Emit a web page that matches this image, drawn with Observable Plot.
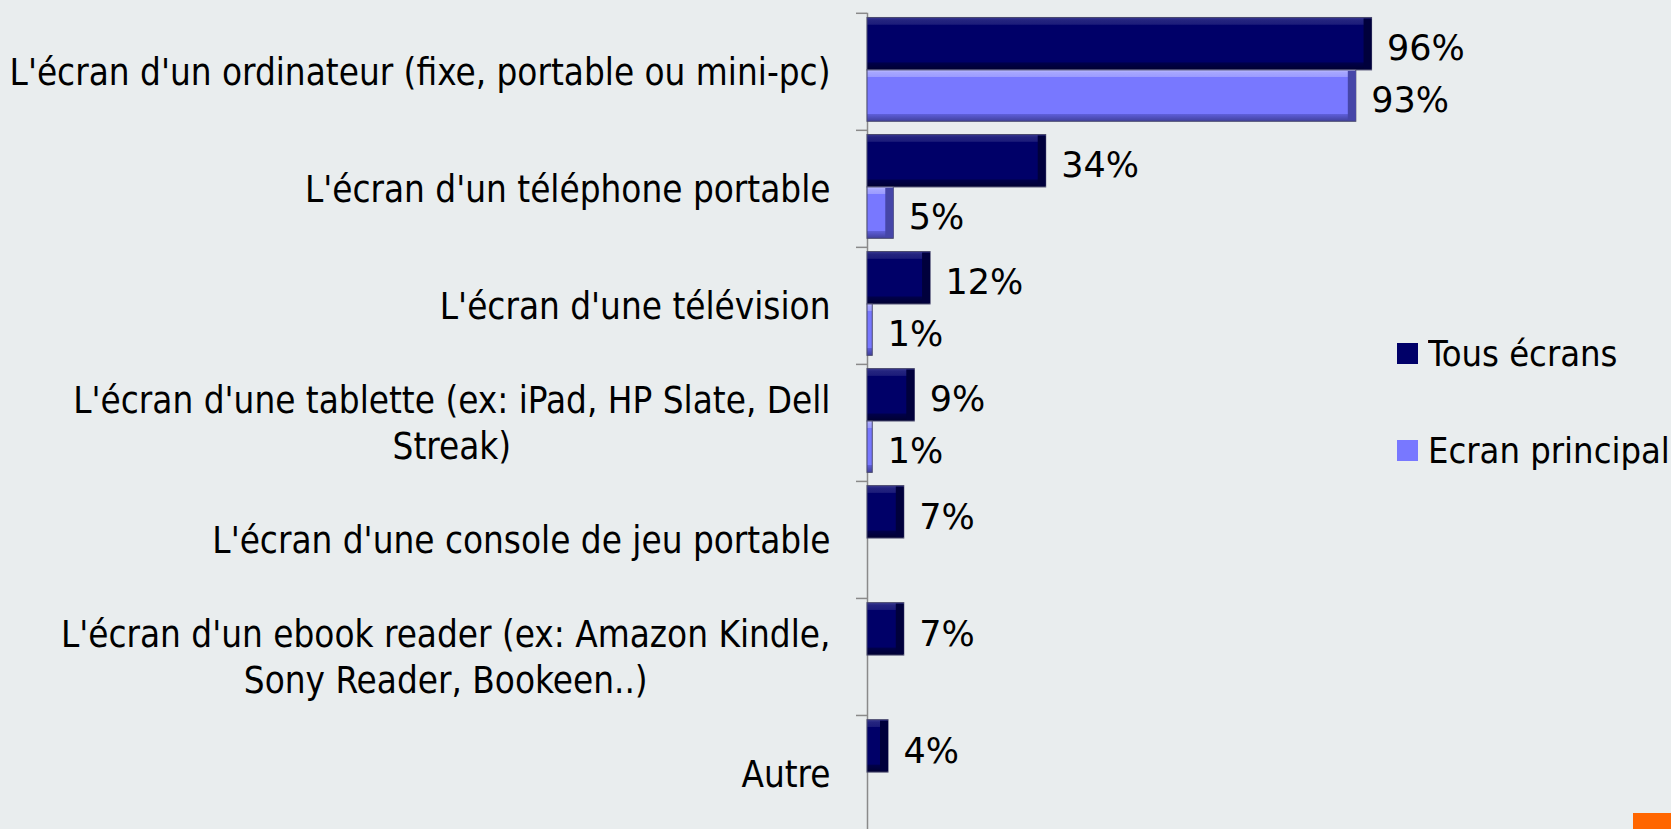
<!DOCTYPE html>
<html>
<head>
<meta charset="utf-8">
<script src="https://cdn.jsdelivr.net/npm/d3@7"></script>
<script src="https://cdn.jsdelivr.net/npm/@observablehq/plot@0.6"></script>
<style>
  html, body { margin: 0; padding: 0; background: #e9edee; }
  #wrap { position: relative; width: 1671px; height: 829px; overflow: hidden; background: #e9edee; }
  #chart svg { display: block; }
  #legend { position: absolute; left: 1397px; top: 343px; }
  #legend .lg-swatch, #legend > div > div { display: flex !important; align-items: center !important; height: 21px !important; margin: 0 0 76px 0 !important; padding: 0 !important; }
  #legend svg { margin-right: 10px !important; }
  #legend, #legend * { font-family: 'DejaVu Sans Condensed', 'DejaVu Sans', sans-serif !important; font-size: 36px !important; color: #000 !important; }
  #corner { position: absolute; left: 1633px; top: 813px; width: 38px; height: 16px; background: #ff6600; }
</style>
</head>
<body>
<div id="wrap">
  <div id="chart"></div>
  <div id="legend"></div>
  <div id="corner"></div>
</div>
<script>
// ---- data ----
const categories = [
  "L'écran d'un ordinateur (fixe, portable ou mini-pc)",
  "L'écran d'un téléphone portable",
  "L'écran d'une télévision",
  "L'écran d'une tablette (ex: iPad, HP Slate, Dell\nStreak)",
  "L'écran d'une console de jeu portable",
  "L'écran d'un ebook reader (ex: Amazon Kindle,\nSony Reader, Bookeen..)",
  "Autre"
];
const series = ["Tous écrans", "Ecran principal"];
const tousEcrans = [96, 34, 12, 9, 7, 7, 4];
const ecranPrincipal = [93, 5, 1, 1, null, null, null];

// ---- styling ----
const FONT = "'DejaVu Sans Condensed', 'DejaVu Sans', sans-serif";
const FONT_VAL = "'DejaVu Sans', sans-serif";
const colors = ["#000068", "#7878ff"];
const slot = { "Tous écrans": [0.04, 0.488], "Ecran principal": [0.488, 0.927] };
const gradId = { "Tous écrans": "gTous", "Ecran principal": "gPrin" };
const edgeColor = { "Tous écrans": "#00003c", "Ecran principal": "#4646a8" };

const rows = [];
categories.forEach((c, i) => {
  if (tousEcrans[i] != null) rows.push({ i, cat: c, series: series[0], value: tousEcrans[i] });
  if (ecranPrincipal[i] != null) rows.push({ i, cat: c, series: series[1], value: ecranPrincipal[i] });
});

const chart = Plot.plot({
  width: 1671,
  height: 832,
  marginLeft: 867,
  marginRight: 278.4,
  marginTop: 12.8,
  marginBottom: 0,
  style: { background: "transparent", fontFamily: FONT, color: "#000", overflow: "visible" },
  x: { domain: [0, 100], axis: null },
  y: { domain: [0, categories.length], reverse: true, axis: null },
  marks: [
    Plot.axisY({ ticks: d3.range(categories.length + 1), tickSize: 11, tickFormat: () => "", stroke: "#8a8a8a", strokeWidth: 1.5 }),
    Plot.ruleX([0], { y1: 0, y2: categories.length, stroke: "#8a8a8a", strokeWidth: 1.5 }),
    Plot.rect(rows, {
      x1: 0, x2: "value",
      y1: d => d.i + slot[d.series][0],
      y2: d => d.i + slot[d.series][1],
      fill: d => `url(#${gradId[d.series]})`,
      stroke: "#4a4a6e", strokeWidth: 1
    }),
    Plot.rect(rows.filter(d => d.value >= 3), {
      x1: "value", x2: "value",
      y1: d => d.i + slot[d.series][0],
      y2: d => d.i + slot[d.series][1],
      insetLeft: -8, insetTop: 1, insetBottom: 1,
      fill: d => edgeColor[d.series]
    }),
    Plot.text(rows, {
      x: "value",
      y: d => d.i + (slot[d.series][0] + slot[d.series][1]) / 2,
      text: d => d.value + "%",
      textAnchor: "start", dx: 15, dy: 5,
      fontSize: 35, fontFamily: FONT_VAL, fill: "#000"
    }),
    Plot.text(categories, {
      x: 0, y: (d, i) => i + 0.5,
      text: d => d,
      textAnchor: "end", dx: -37, dy: -2,
      lineHeight: 1.27,
      fontSize: 36.5, fontFamily: FONT, fill: "#000"
    })
  ]
});

document.getElementById("chart").appendChild(chart);

// gradients for bevel look
const defs = d3.select(chart).insert("defs", ":first-child");
function grad(id, stops) {
  const g = defs.append("linearGradient").attr("id", id).attr("x1", 0).attr("y1", 0).attr("x2", 0).attr("y2", 1);
  stops.forEach(([o, c]) => g.append("stop").attr("offset", o).attr("stop-color", c));
}
grad("gTous", [[0, "#3a3a92"], [0.05, "#24247f"], [0.13, "#1c1c7a"], [0.145, "#000068"], [0.85, "#000068"], [0.865, "#00004a"], [1, "#000030"]]);
grad("gPrin", [[0, "#c0c0ff"], [0.05, "#a6a6ff"], [0.13, "#9c9cff"], [0.145, "#7878ff"], [0.85, "#7878ff"], [0.865, "#5e5ed8"], [1, "#40409c"]]);

// center multi-line category labels as a block
chart.querySelectorAll("text").forEach(function (el) {
  const tspans = el.querySelectorAll("tspan");
  if (tspans.length > 1) {
    let w = 0;
    tspans.forEach(t => { w = Math.max(w, t.getComputedTextLength()); });
    el.setAttribute("text-anchor", "middle");
    el.style.textAnchor = "middle";
    tspans.forEach(t => t.setAttribute("x", -w / 2));
  }
});

// legend
const legend = Plot.legend({
  color: { domain: series, range: colors },
  legend: "swatches",
  columns: 1,
  swatchSize: 21,
  className: "lg",
  style: { fontFamily: FONT, fontSize: "36px", color: "#000", background: "transparent" }
});
document.getElementById("legend").appendChild(legend);
</script>
</body>
</html>
